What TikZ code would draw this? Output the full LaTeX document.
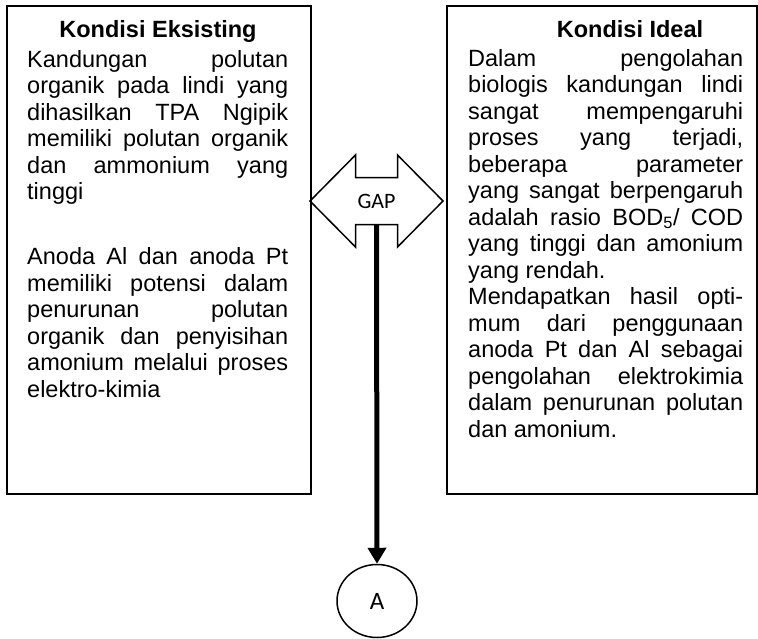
\documentclass[tikz,border=0pt]{standalone}
\usepackage{fontspec}
\setmainfont{Liberation Sans}
\newfontfamily\calfont{Carlito}
\usetikzlibrary{shapes.geometric,arrows.meta}
\tikzset{
  frame/.style={draw, line width=2pt, inner sep=0pt, anchor=north west},
  bodytext/.style={text width=#1, align=justify, inner sep=0pt, anchor=base west,
    font=\fontsize{23.5}{26.5}\selectfont},
  titletext/.style={inner sep=0pt, anchor=base, font=\bfseries\fontsize{23.5}{26.5}\selectfont},
  gapline/.style={draw, line width=1.5pt, line join=miter},
  flow/.style={line width=5pt, -{Triangle[width=18pt,length=16pt]}},
}
\newcommand{\jsetup}{\tolerance=10000\hyphenpenalty=10000\exhyphenpenalty=10000\emergencystretch=0pt}
\begin{document}
\begin{tikzpicture}[x=1pt,y=-1pt]
\useasboundingbox (0,0) rectangle (758,638);
% boxes
\node[frame, minimum width=304pt, minimum height=488pt] (left) at (6,5) {};
\node[frame, minimum width=310pt, minimum height=488pt] (right) at (446,5) {};
% titles
\node[titletext] (ltitle) at (158,37) {Kondisi Eksisting};
\node[titletext] (rtitle) at (630,37) {Kondisi Ideal};
% bodies
\node[bodytext=261pt] (ltext) at (27,67) {\jsetup
Kandungan polutan\linebreak
organik pada lindi yang\linebreak
dihasilkan TPA Ngipik\linebreak
memiliki polutan organik\linebreak
dan ammonium yang\linebreak
tinggi\par\vskip38.5pt
Anoda Al dan anoda Pt\linebreak
memiliki potensi dalam\linebreak
penurunan polutan\linebreak
organik dan penyisihan\linebreak
amonium melalui proses\linebreak
elektro-kimia};
\node[bodytext=275pt] (rtext) at (468,66) {\jsetup
Dalam pengolahan\linebreak
biologis kandungan lindi\linebreak
sangat mempengaruhi\linebreak
proses yang terjadi,\linebreak
beberapa parameter\linebreak
yang sangat berpengaruh\linebreak
adalah rasio BOD\textsubscript{5}/ COD\linebreak
yang tinggi dan amonium\linebreak
yang rendah.\par
Mendapatkan hasil opti-\linebreak
mum dari penggunaan\linebreak
anoda Pt dan Al sebagai\linebreak
pengolahan elektrokimia\linebreak
dalam penurunan polutan\linebreak
dan amonium.};
% GAP double arrow
\node[inner sep=0pt, minimum width=133pt, minimum height=47pt,
      font=\calfont\fontsize{22}{22}\selectfont] (gap) at (376.5,201) {GAP};
\draw[gapline, shift={(gap.center)}]
  (-66.5,0) -- (-21,-46) -- (-21,-23.5) -- (21,-23.5) -- (21,-46) -- (66.5,0)
  -- (21,46) -- (21,23.5) -- (-21,23.5) -- (-21,46) -- cycle;
% circle A
\node[draw, ellipse, line width=1.5pt, minimum width=80pt, minimum height=73pt, inner sep=0pt,
      font=\calfont\fontsize{25}{25}\selectfont] (A) at (377,601) {A};
\draw[flow] (gap.south) -- (A.north);
\end{tikzpicture}
\end{document}
